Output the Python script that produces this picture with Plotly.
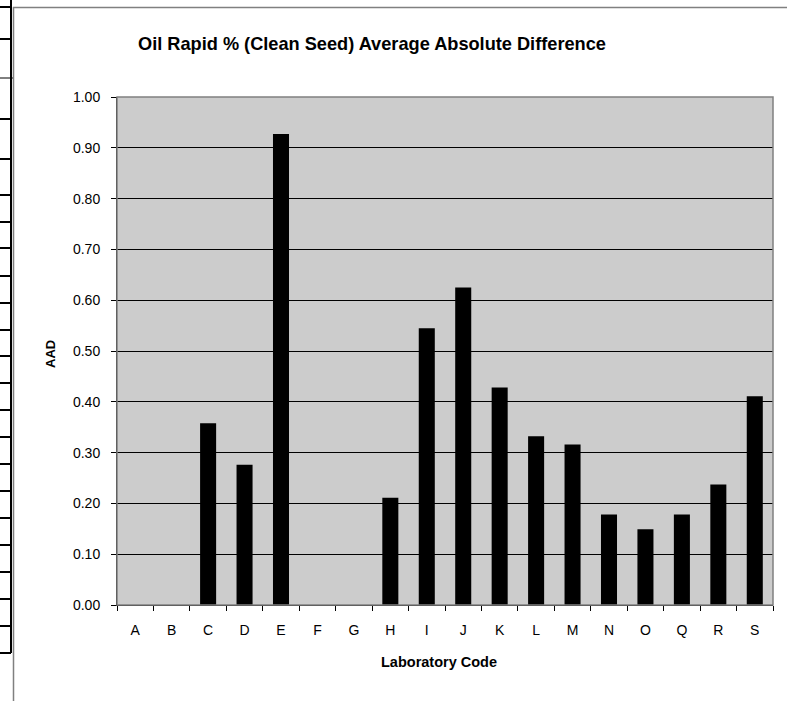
import plotly.graph_objects as go

labs = ["A", "B", "C", "D", "E", "F", "G", "H", "I", "J", "K", "L", "M", "N", "O", "Q", "R", "S"]
aad = [0, 0, 0.358, 0.276, 0.927, 0, 0, 0.211, 0.545, 0.625, 0.428, 0.332, 0.316, 0.178, 0.149, 0.178, 0.237, 0.411]
y_ticks = [0.0, 0.1, 0.2, 0.3, 0.4, 0.5, 0.6, 0.7, 0.8, 0.9, 1.0]

W, H = 787, 701
L, R, T, B = 117, 773, 97, 605  # plot area in pixels

FONT = "Liberation Sans, Arial, sans-serif"

fig = go.Figure()
fig.add_trace(go.Bar(
    x=labs, y=aad,
    marker=dict(color="#000000", line=dict(color="#000000", width=0)),
    width=0.44,
))


def px(x):
    return (x - L) / (R - L)


def py(y):
    return (B - y) / (B - T)


shapes = []
# spreadsheet cell borders at left edge
row_lines = [7, 39, 119, 159, 195, 222, 248, 276, 303, 330, 356, 383, 410, 437, 464,
             491, 518, 545, 572, 599, 626, 653]
shapes.append(dict(type="line", xref="paper", yref="paper", x0=px(11), x1=px(11),
                   y0=py(0), y1=py(653), line=dict(color="#000000", width=2)))
for yy in row_lines:
    shapes.append(dict(type="line", xref="paper", yref="paper", x0=px(0), x1=px(11),
                       y0=py(yy), y1=py(yy), line=dict(color="#000000", width=2)))
shapes.append(dict(type="line", xref="paper", yref="paper", x0=px(0), x1=px(13),
                   y0=py(78), y1=py(78), line=dict(color="#000000", width=1)))
# chart frame
shapes.append(dict(type="line", xref="paper", yref="paper", x0=px(13.5), x1=px(13.5),
                   y0=py(7), y1=py(701), line=dict(color="#808080", width=1.5)))
shapes.append(dict(type="line", xref="paper", yref="paper", x0=px(13), x1=px(787),
                   y0=py(7.5), y1=py(7.5), line=dict(color="#808080", width=1.5)))
# plot area border
shapes.append(dict(type="rect", xref="paper", yref="paper", x0=0, x1=1, y0=0, y1=1,
                   line=dict(color="#808080", width=1.5), layer="above"))

annotations = [
    dict(text="<b>Oil Rapid % (Clean Seed) Average Absolute Difference</b>",
         xref="paper", yref="paper", x=px(371.5), y=py(44.5), xanchor="center", yanchor="middle",
         showarrow=False, font=dict(family=FONT, size=18.2, color="#000000")),
    dict(text="<b>Laboratory Code</b>",
         xref="paper", yref="paper", x=px(439), y=py(661.5), xanchor="center", yanchor="middle",
         showarrow=False, font=dict(family=FONT, size=14.5, color="#000000")),
    dict(text="<b>AAD</b>", textangle=-90,
         xref="paper", yref="paper", x=px(50), y=py(354), xanchor="center", yanchor="middle",
         showarrow=False, font=dict(family=FONT, size=13, color="#000000")),
]

fig.update_layout(
    width=W, height=H, autosize=False,
    margin=dict(l=L, r=W - R, t=T, b=H - B, pad=0),
    paper_bgcolor="#FFFFFF",
    plot_bgcolor="#CCCCCC",
    showlegend=False,
    bargap=0.56,
    font=dict(family=FONT, size=14, color="#000000"),
    xaxis=dict(
        type="category", categoryorder="array", categoryarray=labs,
        range=[-0.5, len(labs) - 0.5],
        showgrid=False, showline=True, linecolor="#000000", linewidth=1,
        ticks="outside", tickson="boundaries", ticklen=5, tickcolor="#000000",
        tickfont=dict(family=FONT, size=14),
        ticklabelstandoff=12,
    ),
    yaxis=dict(
        range=[0, 1], tickvals=y_ticks, tickformat=".2f",
        showgrid=True, gridcolor="#000000", gridwidth=1,
        showline=True, linecolor="#000000", linewidth=1,
        ticks="outside", ticklen=5, tickcolor="#000000",
        tickfont=dict(family=FONT, size=14),
        ticklabelstandoff=8,
        zeroline=False,
    ),
    shapes=shapes,
    annotations=annotations,
)

fig.write_html("out.html", config={"displayModeBar": False},
               post_script="document.body.style.margin='0px';")
